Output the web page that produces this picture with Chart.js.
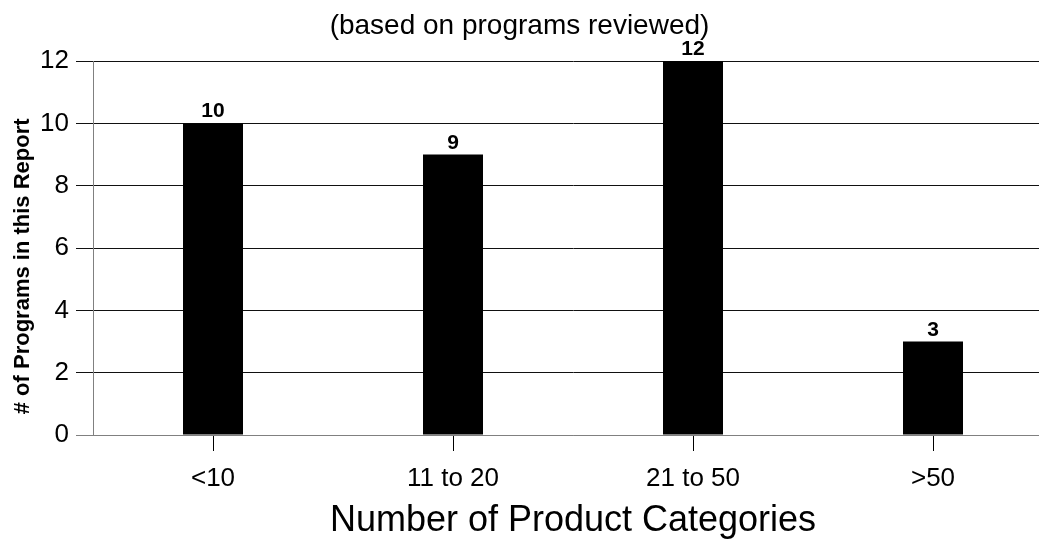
<!DOCTYPE html>
<html>
<head>
<meta charset="utf-8">
<script src="https://cdn.jsdelivr.net/npm/chart.js@4/dist/chart.umd.min.js"></script>
<style>
  html, body { margin: 0; padding: 0; background: #fff; overflow: hidden; width: 1039px; height: 539px; }
  #wrap { position: relative; width: 1039px; height: 539px; overflow: hidden; }
  #c { position: absolute; left: 0; top: 0; }
  #title { position: absolute; left: 0; width: 1039px; top: 11px; text-align: center;
           font-family: "Liberation Sans", Arial, sans-serif; font-size: 28px; line-height: 28px; color: #000; }
</style>
</head>
<body>
<div id="wrap">
  <canvas id="c" width="1054" height="539"></canvas>
  <div id="title">(based on programs reviewed)</div>
</div>
<script>
const categories = ["<10", "11 to 20", "21 to 50", ">50"];
const programCounts = [10, 9, 12, 3];
const yTickValues = [0, 2, 4, 6, 8, 10, 12];
const xAxisTitle = "Number of Product Categories";
const yAxisTitle = "# of Programs in this Report";

const FONT = "'Liberation Sans', Arial, sans-serif";

const barValueLabels = {
  id: 'barValueLabels',
  afterDatasetsDraw(chart) {
    const ctx = chart.ctx;
    const meta = chart.getDatasetMeta(0);
    ctx.save();
    ctx.font = "bold 21px " + FONT;
    ctx.fillStyle = '#000';
    ctx.textAlign = 'center';
    ctx.textBaseline = 'alphabetic';
    meta.data.forEach((bar, i) => {
      ctx.fillText(String(chart.data.datasets[0].data[i]), bar.x, bar.y - 6);
    });
    ctx.restore();
  }
};

new Chart(document.getElementById('c'), {
  type: 'bar',
  data: {
    labels: categories,
    datasets: [{
      data: programCounts,
      backgroundColor: '#000',
      borderWidth: 0,
      barPercentage: 0.25,
      categoryPercentage: 1.0
    }]
  },
  options: {
    responsive: false,
    animation: false,
    devicePixelRatio: 1,
    layout: { padding: { top: 61, left: 0, right: 1, bottom: 0 } },
    plugins: {
      legend: { display: false },
      tooltip: { enabled: false },
      title: { display: false }
    },
    scales: {
      x: {
        offset: true,
        grid: {
          offset: false,
          drawOnChartArea: false,
          drawTicks: true,
          tickLength: 16,
          color: '#000'
        },
        border: { display: true, color: '#808080', width: 1 },
        ticks: {
          color: '#000',
          font: { family: FONT, size: 26 },
          padding: 12,
          maxRotation: 0
        },
        title: {
          display: true,
          text: xAxisTitle,
          color: '#000',
          font: { family: FONT, size: 36, lineHeight: 1 },
          padding: { top: 0, bottom: 0 }
        },
        afterFit(scale) { scale.height = 104; }
      },
      y: {
        min: 0,
        max: 12,
        afterBuildTicks(scale) { scale.ticks = yTickValues.map(v => ({ value: v })); },
        grid: {
          color: (c) => (c.tick && c.tick.value === 0) ? '#808080' : '#111',
          tickLength: 17,
          lineWidth: 1
        },
        border: { display: true, color: '#808080', width: 1 },
        ticks: {
          color: '#000',
          font: { family: FONT, size: 26 },
          padding: 7
        },
        title: {
          display: true,
          text: yAxisTitle + "      ",
          color: '#000',
          font: { family: FONT, size: 22, weight: 'bold', lineHeight: 1.2 },
          padding: { top: 10, bottom: 10 }
        },
        afterFit(scale) { scale.width = 93; }
      }
    }
  },
  plugins: [barValueLabels]
});
</script>
</body>
</html>
